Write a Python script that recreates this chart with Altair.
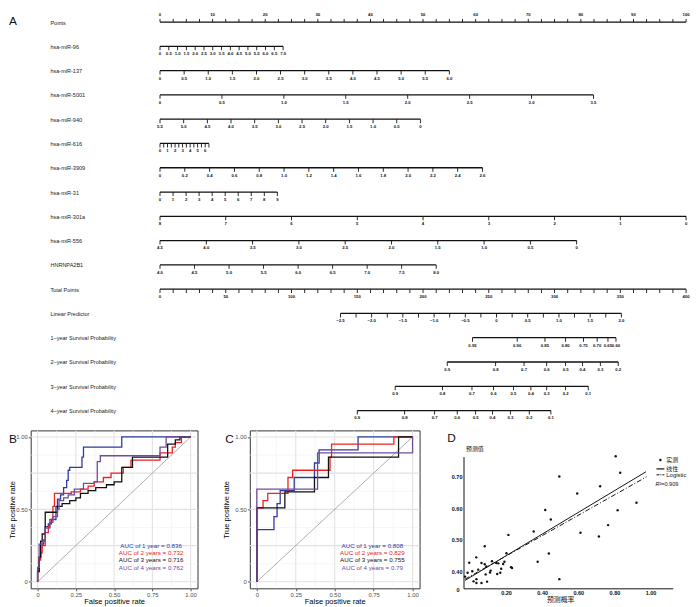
import altair as alt
import pandas as pd

FONT = "Liberation Sans"
CJK = "Noto Sans CJK SC"
BLUE, RED, BLACK, PURPLE = "#2E3A9C", "#EE2222", "#111111", "#6E4C9E"

# ================= Panel A : nomogram =================
row_names = ["Points", "hsa-miR-96", "hsa-miR-137", "hsa-miR-5001", "hsa-miR-940",
             "hsa-miR-616", "hsa-miR-3909", "hsa-miR-31", "hsa-miR-301a", "hsa-miR-556",
             "HNRNPA2B1", "Total Points", "Linear Predictor",
             "1\u2212year Survival Probability", "2\u2212year Survival Probability",
             "3\u2212year Survival Probability", "4\u2212year Survival Probability"]

points_labels = ["0", "10", "20", "30", "40", "50", "60", "70", "80", "90", "100"]
mir96_labels = ["0", "0.5", "1.0", "1.5", "2.0", "2.5", "3.0", "3.5", "4.0", "4.5",
                "5.0", "5.5", "6.0", "6.5", "7.0"]
mir137_labels = ["0", "0.5", "1.0", "1.5", "2.0", "2.5", "3.0", "3.5", "4.0", "4.5",
                 "5.0", "5.5", "6.0"]
mir5001_labels = ["0", "0.5", "1.0", "1.5", "2.0", "2.5", "3.0", "3.5"]
mir940_labels = ["5.5", "5.0", "4.5", "4.0", "3.5", "3.0", "2.5", "2.0", "1.5", "1.0", "0.5", "0"]
mir616_labels = ["0", "1", "2", "3", "4", "5", "6"]
mir3909_labels = ["0", "0.2", "0.4", "0.6", "0.8", "1.0", "1.2", "1.4", "1.6", "1.8",
                  "2.0", "2.2", "2.4", "2.6"]
mir31_labels = ["0", "1", "2", "3", "4", "5", "6", "7", "8", "9"]
mir301a_labels = ["8", "7", "6", "5", "4", "3", "2", "1", "0"]
mir556_labels = ["4.5", "4.0", "3.5", "3.0", "2.5", "2.0", "1.5", "1.0", "0.5", "0"]
hnrnp_labels = ["4.0", "4.5", "5.0", "5.5", "6.0", "6.5", "7.0", "7.5", "8.0"]
total_labels = ["0", "50", "100", "150", "200", "250", "300", "350", "400"]
lp_labels = ["\u22122.5", "\u22122.0", "\u22121.5", "\u22121.0", "\u22120.5", "0",
             "0.5", "1.0", "1.5", "2.0"]

# (row, labels, minor tick step, value at left end, value at right end,
#  points at left end, points at right end)
linear_rows = [
    (0, points_labels, 2.5, 0, 100, 0, 100),
    (1, mir96_labels, None, 0, 7.0, 0, 23.4),
    (2, mir137_labels, None, 0, 6.0, 0, 55.0),
    (3, mir5001_labels, None, 0, 3.5, 0, 82.4),
    (4, mir940_labels, None, 5.5, 0, 0, 49.5),
    (5, mir616_labels, 0.5, 0, 6.5, 0, 9.3),
    (6, mir3909_labels, None, 0, 2.6, 0, 61.3),
    (7, mir31_labels, None, 0, 9, 0, 22.3),
    (8, mir301a_labels, None, 8, 0, 0, 100),
    (9, mir556_labels, None, 4.5, 0, 0, 79.2),
    (10, hnrnp_labels, None, 4.0, 8.0, 0, 52.5),
    (11, total_labels, 10, 0, 400, 0, 100),
    (12, lp_labels, 0.25, -2.5, 2.0, 34.3, 87.7),
]

# survival probability scales: label and its position on the Total Points scale
surv1_labels = ["0.95", "0.90", "0.85", "0.80", "0.75", "0.70", "0.65", "0.60"]
surv1_total = [237.6, 271.6, 292.7, 308.4, 322.0, 332.4, 340.6, 346.7]
surv2_labels = ["0.9", "0.8", "0.7", "0.6", "0.5", "0.4", "0.3", "0.2"]
surv2_total = [218.4, 255.2, 276.8, 294.0, 308.4, 321.2, 334.8, 348.4]
surv3_labels = ["0.9", "0.8", "0.7", "0.6", "0.5", "0.4", "0.3", "0.2", "0.1"]
surv3_total = [178.8, 214.8, 237.2, 253.6, 268.8, 282.0, 294.0, 308.4, 325.6]
surv4_labels = ["0.9", "0.8", "0.7", "0.6", "0.5", "0.4", "0.3", "0.2", "0.1"]
surv4_total = [150.0, 186.0, 208.8, 226.0, 240.0, 252.8, 266.4, 280.8, 297.2]
surv_rows = [(13, surv1_labels, surv1_total), (14, surv2_labels, surv2_total),
             (15, surv3_labels, surv3_total), (16, surv4_labels, surv4_total)]


def num(s):
    return float(s.replace("\u2212", "-"))


line_rec, tick_rec, lab_rec = [], [], []
for row, labs, step, v0, v1, p0, p1 in linear_rows:
    def to_pts(v, v0=v0, v1=v1, p0=p0, p1=p1):
        return p0 + (v - v0) / (v1 - v0) * (p1 - p0)
    line_rec.append({"row": row, "x0": p0, "x1": p1})
    for s in labs:
        lab_rec.append({"row": row, "x": to_pts(num(s)), "text": s})
    if step:
        lo, hi = min(v0, v1), max(v0, v1)
        n = int(round((hi - lo) / step))
        tvals = [lo + k * step for k in range(n + 1)]
    else:
        tvals = [num(s) for s in labs]
    for v in tvals:
        tick_rec.append({"row": row, "x": to_pts(v)})
for row, labs, tots in surv_rows:
    pts = [t / 4.0 for t in tots]  # 400 total points correspond to 100 points
    line_rec.append({"row": row, "x0": min(pts), "x1": max(pts)})
    for s, p in zip(labs, pts):
        lab_rec.append({"row": row, "x": p, "text": s})
        tick_rec.append({"row": row, "x": p})

lines_df = pd.DataFrame(line_rec)
ticks_df = pd.DataFrame(tick_rec)
labs_df = pd.DataFrame(lab_rec)
names_df = pd.DataFrame({"row": list(range(len(row_names))), "name": row_names})

nx = alt.Scale(domain=[0, 100], range=[131, 664], nice=False, zero=False)
ny = alt.Scale(domain=[0, 16], range=[6.3, 399.9], nice=False, zero=False)

n_lines = alt.Chart(lines_df).mark_rule(color=BLACK, strokeWidth=1.3).encode(
    x=alt.X("x0:Q", scale=nx, axis=None), x2="x1:Q",
    y=alt.Y("row:Q", scale=ny, axis=None))
n_ticks_dn = alt.Chart(ticks_df[ticks_df.row > 0]).mark_tick(
    orient="vertical", size=4, thickness=0.9, yOffset=2, color=BLACK, opacity=1).encode(
    x=alt.X("x:Q", scale=nx, axis=None), y=alt.Y("row:Q", scale=ny, axis=None))
n_ticks_up = alt.Chart(ticks_df[ticks_df.row == 0]).mark_tick(
    orient="vertical", size=3, thickness=0.9, yOffset=-1.5, color=BLACK, opacity=1).encode(
    x=alt.X("x:Q", scale=nx, axis=None), y=alt.Y("row:Q", scale=ny, axis=None))
n_labs_dn = alt.Chart(labs_df[labs_df.row > 0]).mark_text(
    dy=8, fontSize=4.3, fontWeight="bold", baseline="middle", color=BLACK).encode(
    x=alt.X("x:Q", scale=nx, axis=None), y=alt.Y("row:Q", scale=ny, axis=None), text="text:N")
n_labs_up = alt.Chart(labs_df[labs_df.row == 0]).mark_text(
    dy=-7.5, fontSize=4.3, fontWeight="bold", baseline="middle", color=BLACK).encode(
    x=alt.X("x:Q", scale=nx, axis=None), y=alt.Y("row:Q", scale=ny, axis=None), text="text:N")
n_names = alt.Chart(names_df).mark_text(
    align="left", baseline="middle", fontSize=5.6, color="#222222", dy=0.5).encode(
    x=alt.value(20), y=alt.Y("row:Q", scale=ny, axis=None), text="name:N")
n_letter = alt.Chart(pd.DataFrame({"t": ["A"]})).mark_text(
    align="left", baseline="middle", fontSize=12, color=BLACK).encode(
    text="t:N", x=alt.value(-22), y=alt.value(5))

nomogram = alt.layer(n_lines, n_ticks_dn, n_ticks_up, n_labs_dn, n_labs_up,
                     n_names, n_letter).properties(width=670, height=408)

# ================= Panels B and C : ROC curves =================
curve_keys = ["1", "2", "3", "4"]
curve_colors = [BLUE, RED, BLACK, PURPLE]

# training set (B)
b1_fpr = [0, 0, 0.01, 0.02, 0.04, 0.05, 0.07, 0.09, 0.12, 0.13, 0.15, 0.17, 0.19, 0.20, 0.21, 0.29, 0.30, 0.55, 1.0]
b1_tpr = [0, 0.08, 0.17, 0.26, 0.29, 0.38, 0.40, 0.43, 0.52, 0.57, 0.60, 0.65, 0.70, 0.77, 0.79, 0.86, 0.93, 1.0, 1.0]
b2_fpr = [0, 0, 0.01, 0.02, 0.03, 0.05, 0.07, 0.08, 0.10, 0.11, 0.22, 0.28, 0.33, 0.37, 0.43, 0.48, 0.56, 0.61, 0.80, 0.88, 0.90, 0.94, 1.0]
b2_tpr = [0, 0.07, 0.15, 0.20, 0.25, 0.34, 0.38, 0.43, 0.52, 0.61, 0.62, 0.64, 0.66, 0.69, 0.72, 0.75, 0.79, 0.84, 0.89, 0.93, 0.96, 1.0, 1.0]
b3_fpr = [0, 0, 0.01, 0.02, 0.03, 0.05, 0.13, 0.16, 0.21, 0.25, 0.28, 0.33, 0.38, 0.45, 0.50, 0.55, 0.62, 0.85, 0.90, 0.93, 1.0]
b3_tpr = [0, 0.07, 0.17, 0.28, 0.33, 0.48, 0.52, 0.54, 0.56, 0.58, 0.61, 0.63, 0.65, 0.67, 0.69, 0.79, 0.86, 0.95, 0.98, 1.0, 1.0]
b4_fpr = [0, 0, 0.01, 0.03, 0.05, 0.08, 0.10, 0.13, 0.14, 0.17, 0.20, 0.24, 0.30, 0.37, 0.39, 0.41, 0.80, 0.84, 1.0]
b4_tpr = [0, 0.10, 0.26, 0.28, 0.37, 0.41, 0.45, 0.50, 0.56, 0.58, 0.60, 0.64, 0.68, 0.69, 0.83, 0.87, 0.93, 1.0, 1.0]
b_auc = ["AUC of 1 year =  0.836", "AUC of 2 years =  0.732",
         "AUC of 3 years =  0.716", "AUC of 4 years =  0.762"]

# validation set (C)
c1_fpr = [0, 0, 0.11, 0.13, 0.15, 0.24, 0.37, 0.40, 0.65, 1.0]
c1_tpr = [0, 0.36, 0.45, 0.54, 0.63, 0.72, 0.82, 0.91, 1.0, 1.0]
c2_fpr = [0, 0, 0.04, 0.07, 0.20, 0.23, 0.47, 0.48, 0.88, 1.0]
c2_tpr = [0, 0.51, 0.56, 0.61, 0.72, 0.77, 0.86, 0.95, 1.0, 1.0]
c3_fpr = [0, 0, 0.18, 0.37, 0.46, 0.91, 1.0]
c3_tpr = [0, 0.51, 0.62, 0.72, 0.86, 1.0, 1.0]
c4_fpr = [0, 0, 0.39, 1.0]
c4_tpr = [0, 0.64, 0.89, 1.0]
c_auc = ["AUC of 1 year =  0.808", "AUC of 2 years =  0.829",
         "AUC of 3 years =  0.755", "AUC of 4 years =  0.79"]

auc_tpr_pos = [0.25, 0.20, 0.148, 0.098]
grid_major = [0, 0.25, 0.5, 0.75, 1.0]
grid_minor = [0.125, 0.375, 0.625, 0.875]
diag = pd.DataFrame({"fpr": [0, 1], "tpr": [0, 1]})

cscale = alt.Scale(domain=curve_keys, range=curve_colors)
lab_expr = "datum.value == 0 ? '0' : format(datum.value, '.2f')"


def roc_df(fprs, tprs):
    rec = []
    for key, f, t in zip(curve_keys, fprs, tprs):
        for i, (a, b) in enumerate(zip(f, t)):
            rec.append({"curve": key, "i": i, "fpr": a, "tpr": b})
    return pd.DataFrame(rec)


def roc_panel(df, aucs, letter, width, title_x, auc_x, letter_x):
    xs = alt.Scale(domain=[-0.045, 1.045], nice=False, zero=False)
    ys = alt.Scale(domain=[-0.045, 1.045], nice=False, zero=False)
    gmaj = alt.Chart(pd.DataFrame({"v": grid_major}))
    gmin = alt.Chart(pd.DataFrame({"v": grid_minor}))
    layers = [
        gmin.mark_rule(color="#EFEFEF", strokeWidth=0.6).encode(x=alt.X("v:Q", scale=xs)),
        gmin.mark_rule(color="#EFEFEF", strokeWidth=0.6).encode(y=alt.Y("v:Q", scale=ys)),
        gmaj.mark_rule(color="#E2E2E2", strokeWidth=1.1).encode(x=alt.X("v:Q", scale=xs)),
        gmaj.mark_rule(color="#E2E2E2", strokeWidth=1.1).encode(y=alt.Y("v:Q", scale=ys)),
        alt.Chart(diag).mark_line(color="#9A9A9A", strokeWidth=0.8).encode(
            x=alt.X("fpr:Q", scale=xs), y=alt.Y("tpr:Q", scale=ys)),
    ]
    xaxis = alt.Axis(values=grid_major, labelExpr=lab_expr, title="False positive rate",
                     grid=False, domain=False, tickSize=2.5, tickColor="#333333",
                     tickWidth=0.8, labelColor="#4D4D4D", labelFontSize=6,
                     labelPadding=0.5, titleFontSize=7.6, titleFontWeight="normal",
                     titleColor="black", titleX=width / 2, titleY=13,
                     titleBaseline="middle")
    yaxis = alt.Axis(values=grid_major, labelExpr=lab_expr, title="True positive rate",
                     grid=False, domain=False, tickSize=2.5, tickColor="#333333",
                     tickWidth=0.8, labelColor="#4D4D4D", labelFontSize=6,
                     labelPadding=1, titleFontSize=7.6, titleFontWeight="normal",
                     titleColor="black", titleX=title_x, titleY=80, titleAngle=270,
                     titleBaseline="middle")
    layers.append(alt.Chart(df).mark_line(interpolate="step-after", strokeWidth=1.3).encode(
        x=alt.X("fpr:Q", scale=xs, axis=xaxis),
        y=alt.Y("tpr:Q", scale=ys, axis=yaxis),
        color=alt.Color("curve:N", scale=cscale, legend=None),
        order=alt.Order("i:Q")))
    tdf = pd.DataFrame({"curve": curve_keys, "t": aucs,
                        "x": [auc_x] * 4, "y": auc_tpr_pos})
    layers.append(alt.Chart(tdf).mark_text(fontSize=6.3, align="center", baseline="middle").encode(
        x=alt.X("x:Q", scale=xs), y=alt.Y("y:Q", scale=ys), text="t:N",
        color=alt.Color("curve:N", scale=cscale, legend=None)))
    layers.append(alt.Chart(pd.DataFrame({"t": [letter]})).mark_text(
        align="left", baseline="middle", fontSize=12, color=BLACK).encode(
        text="t:N", x=alt.value(letter_x), y=alt.value(9)))
    return alt.layer(*layers).properties(
        width=width, height=160,
        view=alt.ViewBackground(stroke="#333333", strokeWidth=1))


panel_b = roc_panel(roc_df([b1_fpr, b2_fpr, b3_fpr, b4_fpr], [b1_tpr, b2_tpr, b3_tpr, b4_tpr]),
                    b_auc, "B", 169, -18, 0.742, -22)
panel_c = roc_panel(roc_df([c1_fpr, c2_fpr, c3_fpr, c4_fpr], [c1_tpr, c2_tpr, c3_tpr, c4_tpr]),
                    c_auc, "C", 172, -23.5, 0.742, -25)

# ================= Panel D : calibration scatter =================
d_pred = [0.807, 0.832, 0.495, 0.721, 0.594, 0.922, 0.417, 0.818, 0.448, 0.765,
          0.353, 0.612, 0.213, 0.714, 0.082, 0.202, 0.437, 0.035, 0.375, 0.228,
          0.233, 0.495, -0.004, 0.064, 0.082, 0.122, 0.146, 0.157, 0.184, 0.046,
          0.013, -0.027, -0.013, 0.020, 0.036, 0.064, 0.095, 0.036, 0.087, 0.091,
          0.111, 0.115, 0.151, 0.168, 0.173, 0.191]
d_obs = [0.765, 0.713, 0.701, 0.670, 0.647, 0.618, 0.595, 0.594, 0.565, 0.547,
         0.527, 0.523, 0.516, 0.511, 0.480, 0.458, 0.457, 0.445, 0.431, 0.414,
         0.411, 0.376, 0.428, 0.427, 0.423, 0.433, 0.427, 0.426, 0.424, 0.406,
         0.401, 0.384, 0.396, 0.369, 0.364, 0.364, 0.368, 0.376, 0.391, 0.416,
         0.397, 0.403, 0.392, 0.396, 0.409, 0.431]
lin_x = [-0.027, 0.975]
lin_y = [0.372, 0.716]
logit_x = [-0.027, 0.978]
logit_y = [0.376, 0.700]

# plot area starts 8 px right of the axis lines (which are drawn at x = -8)
dx = alt.Scale(domain=[0.0109, 1.1257], nice=False, zero=False)
dy = alt.Scale(domain=[0.3469, 0.8469], nice=False, zero=False)

d_pts = alt.Chart(pd.DataFrame({"x": d_pred, "y": d_obs})).mark_circle(
    size=6, color=BLACK, opacity=1).encode(
    x=alt.X("x:Q", scale=dx, axis=alt.Axis(values=[0.2, 0.4, 0.6, 0.8, 1.0], format=".2f",
                                           title=None, grid=False, ticks=False, domain=False,
                                           labelFontSize=5.6, labelFontWeight="bold",
                                           labelColor=BLACK, labelPadding=2.5)),
    y=alt.Y("y:Q", scale=dy, axis=alt.Axis(values=[0.4, 0.5, 0.6, 0.7], format=".2f",
                                           title=None, grid=False, ticks=False, domain=False,
                                           offset=8, labelFontSize=5.6, labelFontWeight="bold",
                                           labelColor=BLACK, labelPadding=2)))
d_lin = alt.Chart(pd.DataFrame({"x": lin_x, "y": lin_y})).mark_line(
    color=BLACK, strokeWidth=1).encode(x=alt.X("x:Q", scale=dx), y=alt.Y("y:Q", scale=dy))
d_log = alt.Chart(pd.DataFrame({"x": logit_x, "y": logit_y})).mark_line(
    color=BLACK, strokeWidth=1, strokeDash=[5, 2, 1, 2]).encode(
    x=alt.X("x:Q", scale=dx), y=alt.Y("y:Q", scale=dy))
d_yaxis = alt.Chart(pd.DataFrame({"a": [0]})).mark_rule(color=BLACK, strokeWidth=1).encode(
    x=alt.value(-8), y=alt.value(160.5), y2=alt.value(27))
d_xaxis = alt.Chart(pd.DataFrame({"a": [0]})).mark_rule(color=BLACK, strokeWidth=1).encode(
    x=alt.value(-8), x2=alt.value(204), y=alt.value(160.5))


def dtext(t, x, y, size=6, font=FONT, align="left", style="normal", weight="normal"):
    return alt.Chart(pd.DataFrame({"t": [t]})).mark_text(
        align=align, baseline="middle", fontSize=size, font=font, fontStyle=style,
        fontWeight=weight, color=BLACK).encode(text="t:N", x=alt.value(x), y=alt.value(y))


d_leg_dot = alt.Chart(pd.DataFrame({"a": [0]})).mark_circle(size=6, color=BLACK, opacity=1).encode(
    x=alt.value(191), y=alt.value(30))
d_leg_lin = alt.Chart(pd.DataFrame({"a": [0]})).mark_rule(color=BLACK, strokeWidth=1.2).encode(
    x=alt.value(187), x2=alt.value(195), y=alt.value(39))
d_leg_log = alt.Chart(pd.DataFrame({"a": [0]})).mark_rule(
    color=BLACK, strokeWidth=1, strokeDash=[3, 1, 1, 1]).encode(
    x=alt.value(187), x2=alt.value(195), y=alt.value(45))

panel_d = alt.layer(
    d_yaxis, d_xaxis, d_lin, d_log, d_pts,
    d_leg_dot, d_leg_lin, d_leg_log,
    dtext("实测", 197, 30, font=CJK),
    dtext("线性", 197, 39, font=CJK),
    dtext("Logistic", 197, 45),
    dtext("R", 186, 54, size=5.6, style="italic"),
    dtext("\u00b2=0.909", 190, 54, size=5.6),
    dtext("预测值", -6, 19, size=6, font=CJK),
    dtext("预测概率", 90, 172, size=7, font=CJK, align="center"),
    dtext("0", -14, 162, size=5.6, align="center", weight="bold"),
    dtext("D", -25, 8, size=12),
).properties(width=204, height=160)

bottom = alt.hconcat(panel_b, panel_c, panel_d, spacing=53, bounds="flush")

chart = alt.vconcat(nomogram, bottom, spacing=12, bounds="flush").properties(
    padding=0
).configure(font=FONT).configure_view(strokeWidth=0).configure_axis(
    labelFont=FONT, titleFont=FONT)

chart.save("out.html", embed_options={"renderer": "svg", "actions": False})
